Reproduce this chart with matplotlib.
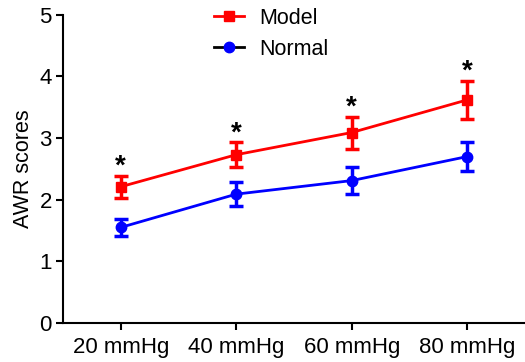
import matplotlib.pyplot as plt
from matplotlib.lines import Line2D

plt.rcParams['font.family'] = ['Liberation Sans', 'DejaVu Sans']

categories = ['20 mmHg', '40 mmHg', '60 mmHg', '80 mmHg']
model_mean = [2.21, 2.73, 3.09, 3.62]
model_err = [0.18, 0.20, 0.26, 0.31]
normal_mean = [1.55, 2.09, 2.31, 2.70]
normal_err = [0.14, 0.19, 0.22, 0.23]
signif = ['*', '*', '*', '*']

fig = plt.figure(figsize=(5.25, 3.62), dpi=100)
ax = fig.add_axes([0.12, 0.108, 0.88, 0.851])

x = list(range(len(categories)))

ax.errorbar(x, normal_mean, yerr=normal_err, color='#0000ff', marker='o',
            markersize=7.5, linewidth=2, elinewidth=2.5, capsize=5, capthick=2.5)
ax.errorbar(x, model_mean, yerr=model_err, color='#ff0000', marker='s',
            markersize=7.5, linewidth=2, elinewidth=2.5, capsize=5, capthick=2.5)

# asterisks above the model error bars
for xi, m, e, s in zip(x, model_mean, model_err, signif):
    ax.text(xi, m + e - 0.07, s, ha='center', va='bottom', fontsize=20,
            fontweight='bold', color='black')

ax.set_xlim(-0.5, 3.5)
ax.set_ylim(0, 5)
ax.set_xticks(x)
ax.set_xticklabels(categories, fontsize=16)
ax.set_yticks(range(0, 6))
ax.tick_params(axis='y', labelsize=16, width=1.5, length=5, pad=3)
ax.tick_params(axis='x', width=1.5, length=5, pad=5)
ax.set_ylabel('AWR scores', fontsize=15.5, labelpad=4)

for side in ['top', 'right']:
    ax.spines[side].set_visible(False)
for side in ['left', 'bottom']:
    ax.spines[side].set_linewidth(1.5)

handles = [
    Line2D([], [], color='#ff0000', marker='s', markersize=7.5, linewidth=2),
    Line2D([], [], color='black', marker='o', markersize=7.5, linewidth=2,
           markerfacecolor='#0000ff', markeredgecolor='#0000ff'),
]
ax.legend(handles, ['Model', 'Normal'], loc='upper left', frameon=False,
          fontsize=15.5, bbox_to_anchor=(0.285, 1.085), handlelength=1.4,
          handletextpad=0.7, labelspacing=0.45)

fig.savefig('out.png', dpi=100)
